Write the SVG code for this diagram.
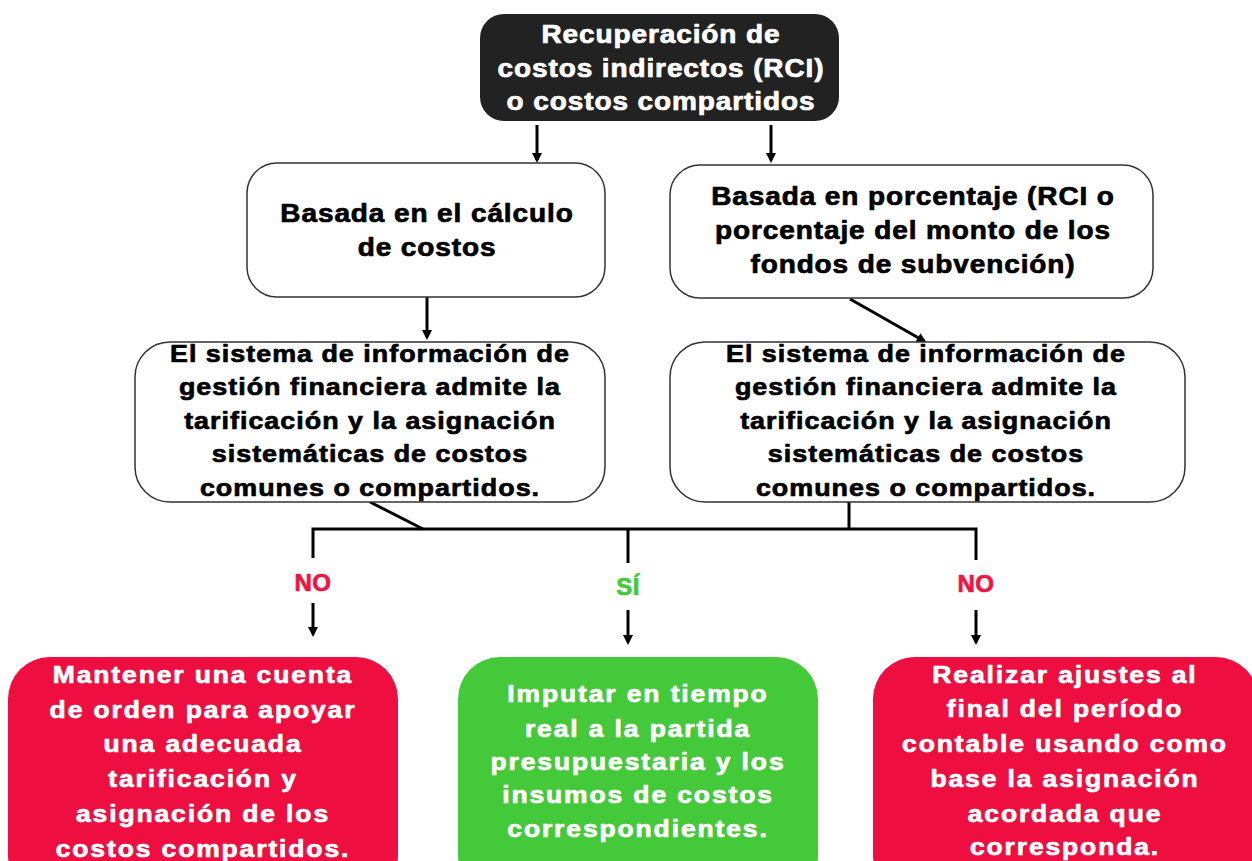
<svg xmlns="http://www.w3.org/2000/svg" width="1252" height="861" viewBox="0 0 1252 861">
  <defs>
    <marker id="arr" viewBox="0 0 10 10" markerWidth="10" markerHeight="10" refX="7" refY="5" markerUnits="userSpaceOnUse" orient="auto">
      <path d="M0,0 L10,5 L0,10 z" fill="#000"/>
    </marker>
    <style>
      .wbox { fill: #fff; stroke: #333; stroke-width: 1.5; }
      .dark { fill: #222; }
      .red { fill: #EE0E3F; }
      .green { fill: #44C93A; }
      .txt { font-family: "Liberation Sans", Arial, sans-serif; font-weight: bold; text-anchor: middle; stroke-width: 0.7px; stroke-linejoin: round; }
      .top { font-size: 25px; letter-spacing: 0.8px; fill: #fff; stroke: #fff; }
      .l2 { font-size: 25px; letter-spacing: 0.8px; fill: #000; stroke: #000; }
      .l3 { font-size: 24px; letter-spacing: 0.9px; fill: #000; stroke: #000; }
      .bot { font-size: 23px; letter-spacing: 1.65px; fill: #fff; stroke: #fff; }
      .lbl { font-size: 24px; letter-spacing: 0.5px; }
      .nolbl { fill: #EE1443; stroke: #EE1443; }
      .silbl { fill: #44C93A; stroke: #44C93A; }
      .conn line, .conn polyline { stroke: #000; stroke-width: 3; fill: none; }
    </style>
  </defs>

  <g id="connectors" class="conn">
    <line x1="537" y1="125" x2="537" y2="160" marker-end="url(#arr)"/>
    <line x1="771" y1="125" x2="771" y2="160" marker-end="url(#arr)"/>
    <line x1="427" y1="297" x2="427" y2="337" marker-end="url(#arr)"/>
    <line x1="850" y1="299" x2="924" y2="341" marker-end="url(#arr)"/>
    <line x1="370" y1="502" x2="423" y2="529"/>
    <line x1="849" y1="502" x2="849" y2="529"/>
    <polyline points="313,558 313,529 976,529 976,560"/>
    <line x1="628" y1="529" x2="628" y2="563"/>
    <line x1="313" y1="603" x2="313" y2="634" marker-end="url(#arr)"/>
    <line x1="628" y1="610" x2="628" y2="642" marker-end="url(#arr)"/>
    <line x1="976" y1="610" x2="976" y2="642" marker-end="url(#arr)"/>
    <text class="txt lbl nolbl" x="313" y="591">NO</text>
    <text class="txt lbl silbl" x="628" y="595">SÍ</text>
    <text class="txt lbl nolbl" x="976" y="592">NO</text>
  </g>

  <g id="n-top">
    <rect class="dark" x="480" y="14" width="359" height="107" rx="24"/>
    <g transform="matrix(1.12 0 0 1 -79.32 0)">
      <text class="txt top" x="661" y="43">Recuperación de</text>
      <text class="txt top" x="661" y="77">costos indirectos (RCI)</text>
      <text class="txt top" x="661" y="110">o costos compartidos</text>
    </g>
  </g>

  <g id="n-calculo">
    <rect class="wbox" x="247" y="163" width="358" height="134" rx="30"/>
    <g transform="matrix(1.12 0 0 1 -51.24 0)">
      <text class="txt l2" x="427" y="222">Basada en el cálculo</text>
      <text class="txt l2" x="427" y="256">de costos</text>
    </g>
  </g>

  <g id="n-porcentaje">
    <rect class="wbox" x="670" y="165" width="483" height="133" rx="30"/>
    <g transform="matrix(1.12 0 0 1 -109.56 0)">
      <text class="txt l2" x="913" y="205">Basada en porcentaje (RCI o</text>
      <text class="txt l2" x="913" y="239">porcentaje del monto de los</text>
      <text class="txt l2" x="913" y="273">fondos de subvención)</text>
    </g>
  </g>

  <g id="n-sistema-izq">
    <rect class="wbox" x="135" y="342" width="470" height="160" rx="35"/>
    <g transform="matrix(1.12 0 0 1 -44.4 0)">
      <text class="txt l3" x="370" y="362">El sistema de información de</text>
      <text class="txt l3" x="370" y="395.5">gestión financiera admite la</text>
      <text class="txt l3" x="370" y="429">tarificación y la asignación</text>
      <text class="txt l3" x="370" y="462.5">sistemáticas de costos</text>
      <text class="txt l3" x="370" y="496">comunes o compartidos.</text>
    </g>
  </g>

  <g id="n-sistema-der">
    <rect class="wbox" x="670" y="342" width="515" height="160" rx="35"/>
    <g transform="matrix(1.12 0 0 1 -111.12 0)">
      <text class="txt l3" x="926" y="362">El sistema de información de</text>
      <text class="txt l3" x="926" y="395.5">gestión financiera admite la</text>
      <text class="txt l3" x="926" y="429">tarificación y la asignación</text>
      <text class="txt l3" x="926" y="462.5">sistemáticas de costos</text>
      <text class="txt l3" x="926" y="496">comunes o compartidos.</text>
    </g>
  </g>

  <g id="n-cuenta-orden">
    <rect class="red" x="8" y="657" width="390" height="240" rx="42"/>
    <g transform="matrix(1.15 0 0 1 -30.45 0)">
      <text class="txt bot" x="203" y="683">Mantener una cuenta</text>
      <text class="txt bot" x="203" y="718">de orden para apoyar</text>
      <text class="txt bot" x="203" y="752">una adecuada</text>
      <text class="txt bot" x="203" y="787">tarificación y</text>
      <text class="txt bot" x="203" y="822">asignación de los</text>
      <text class="txt bot" x="203" y="857">costos compartidos.</text>
    </g>
  </g>

  <g id="n-imputar">
    <rect class="green" x="458" y="657" width="360" height="240" rx="42"/>
    <g transform="matrix(1.15 0 0 1 -95.7 0)">
      <text class="txt bot" x="638" y="702">Imputar en tiempo</text>
      <text class="txt bot" x="638" y="737">real a la partida</text>
      <text class="txt bot" x="638" y="770">presupuestaria y los</text>
      <text class="txt bot" x="638" y="803">insumos de costos</text>
      <text class="txt bot" x="638" y="837">correspondientes.</text>
    </g>
  </g>

  <g id="n-ajustes">
    <rect class="red" x="873" y="657" width="385" height="240" rx="42"/>
    <g transform="matrix(1.15 0 0 1 -159.75 0)">
      <text class="txt bot" x="1065" y="683">Realizar ajustes al</text>
      <text class="txt bot" x="1065" y="717">final del período</text>
      <text class="txt bot" x="1065" y="752">contable usando como</text>
      <text class="txt bot" x="1065" y="787">base la asignación</text>
      <text class="txt bot" x="1065" y="822">acordada que</text>
      <text class="txt bot" x="1065" y="855">corresponda.</text>
    </g>
  </g>
</svg>
